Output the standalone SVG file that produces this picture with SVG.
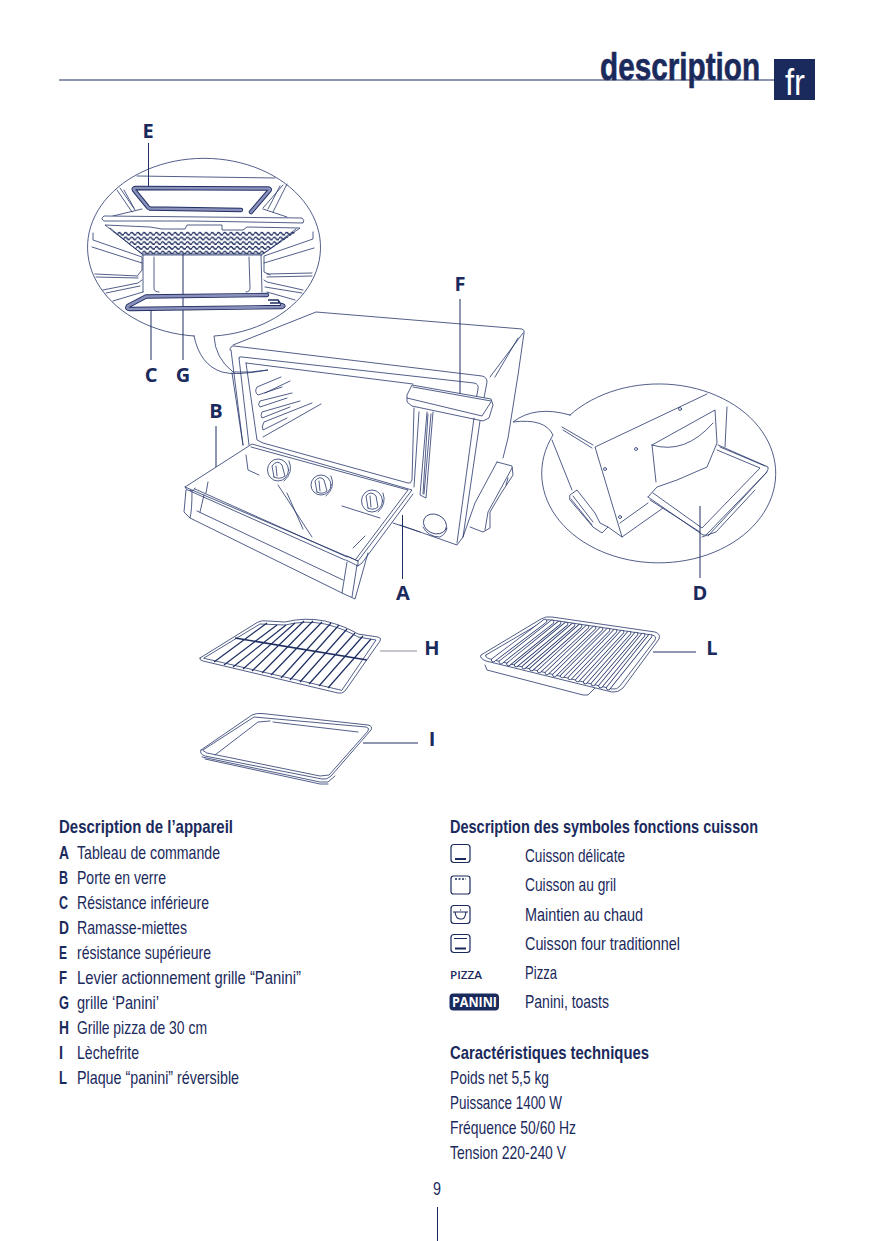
<svg xmlns="http://www.w3.org/2000/svg" width="875" height="1241" viewBox="0 0 875 1241">
<style>
.l{fill:none;stroke:#26366b;stroke-width:.8;stroke-linecap:round;stroke-linejoin:round}
.f{fill:#fff;stroke:#26366b;stroke-width:.8;stroke-linejoin:round}
.c{fill:none;stroke:#1f2f63;stroke-width:1}
.res{fill:none;stroke:#1f2f63;stroke-width:4.4;stroke-linecap:round;stroke-linejoin:round}
.res2{fill:none;stroke:#8b90bb;stroke-width:2.6;stroke-linecap:round;stroke-linejoin:round}
.t{font-family:"Liberation Sans",sans-serif;font-size:19px;fill:#1b2a5c}
.b{font-family:"Liberation Sans",sans-serif;font-size:19px;font-weight:700;fill:#1b2a5c}
.k{font-family:"Open Sans","Liberation Sans",sans-serif;font-size:20px;font-weight:700;fill:#1b2a5c;text-anchor:middle}
</style>
<defs>
<pattern id="wave" width="6.2" height="4.7" patternUnits="userSpaceOnUse" x="0" y="231">
<path d="M0 2.800Q1.550 .2 3.100 2.800T6.200 2.800" fill="none" stroke="#1b2a5c" stroke-width="1.400"/>
</pattern>
</defs>
<rect width="875" height="1241" fill="#fff"/>

<g id="header">
<line x1="59" y1="80" x2="775" y2="80" stroke="#1b2a5c" stroke-width="1"/>
<text transform="translate(600 80) scale(.762 1)" font-family="'Liberation Sans',sans-serif" font-size="39" font-weight="700" fill="#1b2a5c" stroke="#1b2a5c" stroke-width=".6">description</text>
<rect x="774" y="59" width="41" height="41" fill="#1b2a5c"/>
<text x="785" y="95" font-family="'Liberation Sans',sans-serif" font-size="36" fill="#fff" textLength="20" lengthAdjust="spacingAndGlyphs">fr</text>
</g>

<g id="connectors">
<path class="c" d="M148.500 143V188M151 307V360M183 253V360M460 299V404M216 426V486M402.500 515V579M700 506V578M363 743H418M653 652H696"/>
<path d="M380 651H417" fill="none" stroke="#8a8f9c" stroke-width="1"/>
</g>

<g id="oven">
<path class="l" d="M233 345L316 312L522 329Q525 330 524 333L518 375L508 438L503 458"/>
<path class="l" d="M523 333L490 377M518 338L495 377"/>
<path class="l" d="M230 350Q230 346 234 346L482 376Q487 377 487 382L484 398"/>
<path class="l" d="M231 350L243 445M232 373L243 445M239 358L249 445M239 358Q239 356 242 357L474 383Q479 384 478 389L476 400"/>
<path class="l" d="M246 363L413 384M246 363L257 440L263 443L408 483Q411 484 412 480L414 408"/>
<path class="l" d="M281 377L257 387Q254 392 258 395L282 387M290 381L265 393M292 393L260 401Q257 405 260 407L287 398M300 401L262 412Q260 416 262 418L290 407M312 403L264 422Q261 427 263 430L287 418M321 404L263 437"/>
<path class="l" d="M419 412L414 487M427 412L420 495L426 498L433 412M428 414L423 494M431 414L424 494"/>
<path class="f" d="M412 385L491 399L493 405L489 418L483 421L412 406L407 402V395Z"/>
<path class="l" d="M407 398L482 416L491 402M413 387L491 401"/>
<path class="l" d="M474 418L457 543M480 421L463 537L457 545L400 525"/>
<path class="l" d="M497 462L512 466L513 475L500 495L490 512L490 528L483 532L470 527M497 462L475 503L463 537M512 468L488 512L485 530M508 478L506 485"/>
<g id="timer-knob" class="l"><ellipse cx="435" cy="524" rx="12" ry="9.500" transform="rotate(25 435 524)"/><path d="M423 527Q428 537 440 537Q446 534 447 528"/></g>
<path class="f" d="M252 444L412 490L358 561L185 487Z"/>
<path class="l" d="M251 447L408 490L356 559M195 489L347 557M190 491L345 560M413 494L362 563L358 566"/>
<path class="l" d="M185 487L187 490L193 491L195 488M347 556L358 561V566L346 560"/>
<path class="l" d="M186 490L184 512L190 518Q192 510 192 492M204 495L200 512M197 511L343 580M190 518L342 593"/>
<path class="l" d="M347 562L342 593L355 599L368 553M357 565L352 597"/>
<path class="l" d="M208 482L206 493M246 455L248 470L259 475M278 485L312 537M287 493L303 529M342 506L380 518M353 548L365 536M393 523L420 532"/>
<g id="knobs" class="l">
<ellipse cx="278" cy="470" rx="10.500" ry="11"/><path d="M289 461Q294 472 284 481M274 477L272 466Q277 459 282 465L285 476Q280 480 274 477ZM277 476L276 466"/>
<ellipse cx="321" cy="485" rx="10" ry="10"/><path d="M331 476Q336 487 326 496M317 492L315 481Q320 475 324 480L327 491Q322 495 317 492ZM320 491L319 481"/>
<ellipse cx="372" cy="501" rx="10.500" ry="11"/><path d="M383 493Q387 504 378 512M368 508L366 496Q371 490 376 496L378 507Q373 511 368 508ZM371 507L370 496"/>
</g>
</g>

<g id="callout-top">
<path class="l" d="M194 336A116.500 89 0 1 1 214 336Q215 358 233 372Q250 373 268 370Q235 376 222 372Q200 365 194 336Z"/>
<path class="l" d="M137 176L275 178M117 190L132 212M120 188L135 210M124 190L134 208M113 216L142 209M283 185L263 208M287 184L273 212M280 186L268 209M287 217L263 209"/>
<path class="res" d="M241 210L150 208.500Q148 208 147 206L134 190Q133 188 136 188L268 188.500Q271 189 269 191L251 212"/>
<path class="res2" d="M241 210L150 208.500Q148 208 147 206L134 190Q133 188 136 188L268 188.500Q271 189 269 191L251 212"/>
<path class="f" d="M104 216L302 218Q305 220 303 223L250 222L190 221L104 221Q100 219 104 216Z"/>
<path class="f" d="M105 225L150 227L162 229H185L187 225H222V230H243L247 227L300 228L263 254H142Z"/>
<path d="M112 231H298L263 254H142Z" fill="url(#wave)" stroke="none"/>
<path class="l" d="M110 228L142 254M296 229L263 254M142 255H262"/>
<path class="l" d="M143 255V292M154 257V288Q154 292 159 292M249 257L250 288Q250 292 246 292M261 255L262 292"/>
<path class="l" d="M93 233V240L142 257V270L138 275M92 247L142 263M95 274L138 276M96 277L138 278M103 290L138 283L142 280M106 293L140 286M113 301L143 292"/>
<path class="l" d="M313 232V239L264 256V272L270 275M314 248L264 263M312 273L267 274M312 276L267 277M303 290L267 282L264 280M302 293L265 287M295 300L267 292"/>
<path class="res" d="M267 295L146 296.500L128 306Q126 309 130 309L282 307Q285 306 282 305"/>
<path class="res2" d="M267 295L146 296.500L128 306Q126 309 130 309L282 307Q285 306 282 305"/>
<path fill="none" stroke="#1f2f63" stroke-width="1.600" d="M268 300H278L280 303H270"/>
</g>

<g id="callout-side">
<path class="l" d="M570 415A117 89.500 0 1 1 553 435Q545 418 513 422Q535 405 570 415Z"/>
<path class="l" d="M707 394L595 447L622 537L663 508M620 523L648 503M552 440L572 490M562 427L593 445M563 430L592 448"/>
<path class="l" d="M570 495L577 490L595 513L600 523L608 527L602 533L593 527L570 500ZM573 496L593 522M571 499L592 525M608 527L622 537"/>
<path class="l" d="M652 445L715 410L717 443L707 467L677 480L657 487L648 497M652 445Q685 455 713 423M652 445L656 482M727 407L725 447"/>
<path class="l" d="M718 445L768 467Q769 469 766 473L706 535L703 535L648 497M717 450L760 468L702 528L653 493M720 447L765 466M767 472L708 536M650 500L700 532"/>
<path class="l" d="M702 537L716 532L755 490"/>
<circle class="l" cx="680" cy="409" r="1.500"/><circle class="l" cx="636" cy="449" r="1.500"/><circle class="l" cx="605" cy="469" r="1.500"/><circle class="l" cx="620" cy="517" r="1.500"/>
</g>

<g id="grille-h">
<path class="l" d="M200 658L258 622Q262 620 268 621L285 622Q305 617 325 621Q345 626 358 634L378 637Q382 638 380 641L345 691Q342 694 338 693L203 661Q199 660 200 658Z"/>
<path class="l" d="M204 658L260 624L285 625Q305 620 325 624Q345 629 358 637L376 640L342 690Z"/>
<path d="M214 662L267 623M224 665L277 625M233 667L286 625M243 669L295 623M252 671L304 621M262 673L313 621M271 675L322 622M281 678L331 623M290 680L339 625M300 682L347 629M309 684L355 633M319 686L363 636M328 688L371 639" fill="none" stroke="#1f2f63" stroke-width="1.200"/>
<path d="M235 638L367 660" fill="none" stroke="#1f2f63" stroke-width="1.600"/>
</g>

<g id="tray-i">
<path class="l" d="M201 750L252 715Q256 713 262 713.500L368 725Q373 726 371 730L331 776Q327 780 322 779L205 756Q199 754 201 750Z"/>
<path class="l" d="M203 750L254 717L366 727Q370 728 368 731L329 775L320 776L207 753ZM215 755L258 722L270 721M273 722L358 732M202 757L320 782H328L335 776M205 759L320 784L328 784"/>
</g>

<g id="plaque-l">
<path class="l" d="M485 665L487 670L583 695H588L598 685"/>
<path class="f" d="M481 655L541 619Q546 616 552 617L655 632Q661 634 659 639L623 688Q618 693 612 692L486 661Q479 658 481 655Z"/>
<path class="l" d="M486 655L544 621Q548 619 552 620L652 635Q657 636 655 640L620 686Q617 690 612 689L490 659Q484 657 486 655Z"/>
<path id="ribs" stroke="#26366b" stroke-width="4.400" stroke-linecap="round" fill="none" d="M493.300 660L545 621M501 662L552 622M508.600 664L559 623M516.300 665L566 624M524 667L573 625M531.600 669L580 626M539.300 671L587 627M547 673L594 628M554.600 675L601 629M562.300 676L608 630M570 678L615 631M577.600 680L622 632M585.300 682L629 633M593 684L636 634M600.600 686L643 635M608.300 688L650 636"/>
<path stroke="#fff" stroke-width="2.900" stroke-linecap="round" fill="none" d="M493.300 660L545 621M501 662L552 622M508.600 664L559 623M516.300 665L566 624M524 667L573 625M531.600 669L580 626M539.300 671L587 627M547 673L594 628M554.600 675L601 629M562.300 676L608 630M570 678L615 631M577.600 680L622 632M585.300 682L629 633M593 684L636 634M600.600 686L643 635M608.300 688L650 636"/>
</g>

<g id="labels">
<text class="k" x="148" y="138">E</text>
<text class="k" x="151" y="382">C</text>
<text class="k" x="183" y="382">G</text>
<text class="k" x="460" y="291">F</text>
<text class="k" x="216" y="418">B</text>
<text class="k" x="403" y="600">A</text>
<text class="k" x="700" y="600">D</text>
<text class="k" x="432" y="655">H</text>
<text class="k" x="712" y="655">L</text>
<text class="k" x="432" y="746">I</text>
</g>

<g id="description">
<text class="b" x="59" y="833" textLength="174" lengthAdjust="spacingAndGlyphs">Description de l’appareil</text>
<text class="b" x="59" y="859" textLength="10" lengthAdjust="spacingAndGlyphs">A</text><text class="t" x="77" y="859" textLength="143" lengthAdjust="spacingAndGlyphs">Tableau de commande</text>
<text class="b" x="59" y="884" textLength="9" lengthAdjust="spacingAndGlyphs">B</text><text class="t" x="77" y="884" textLength="89" lengthAdjust="spacingAndGlyphs">Porte en verre</text>
<text class="b" x="59" y="909" textLength="9" lengthAdjust="spacingAndGlyphs">C</text><text class="t" x="77" y="909" textLength="132" lengthAdjust="spacingAndGlyphs">Résistance inférieure</text>
<text class="b" x="59" y="934" textLength="10" lengthAdjust="spacingAndGlyphs">D</text><text class="t" x="77" y="934" textLength="110" lengthAdjust="spacingAndGlyphs">Ramasse-miettes</text>
<text class="b" x="59" y="959" textLength="8" lengthAdjust="spacingAndGlyphs">E</text><text class="t" x="77" y="959" textLength="134" lengthAdjust="spacingAndGlyphs">résistance supérieure</text>
<text class="b" x="59" y="984" textLength="8" lengthAdjust="spacingAndGlyphs">F</text><text class="t" x="77" y="984" textLength="224" lengthAdjust="spacingAndGlyphs">Levier actionnement grille “Panini”</text>
<text class="b" x="59" y="1009" textLength="10" lengthAdjust="spacingAndGlyphs">G</text><text class="t" x="77" y="1009" textLength="82" lengthAdjust="spacingAndGlyphs">grille ‘Panini’</text>
<text class="b" x="59" y="1034" textLength="10" lengthAdjust="spacingAndGlyphs">H</text><text class="t" x="77" y="1034" textLength="130" lengthAdjust="spacingAndGlyphs">Grille pizza de 30 cm</text>
<text class="b" x="59" y="1059" textLength="4" lengthAdjust="spacingAndGlyphs">I</text><text class="t" x="77" y="1059" textLength="62" lengthAdjust="spacingAndGlyphs">Lèchefrite</text>
<text class="b" x="59" y="1084" textLength="8" lengthAdjust="spacingAndGlyphs">L</text><text class="t" x="77" y="1084" textLength="162" lengthAdjust="spacingAndGlyphs">Plaque “panini” réversible</text>
</g>

<g id="symbols">
<text class="b" x="450" y="833" textLength="308" lengthAdjust="spacingAndGlyphs">Description des symboles fonctions cuisson</text>
<g id="icon-delicate"><rect x="451" y="844.500" width="19" height="18" rx="3" fill="none" stroke="#1b2a5c" stroke-width="1.200"/><path d="M455 859H466" stroke="#1b2a5c" stroke-width="2"/></g>
<g id="icon-gril"><rect x="451" y="876" width="19" height="18" rx="2.500" fill="none" stroke="#1b2a5c" stroke-width="1.200"/><path d="M455 879H466" stroke="#1b2a5c" stroke-width="1.400" stroke-dasharray="2 1.500"/></g>
<g id="icon-chaud"><rect x="451" y="905.500" width="19" height="18" rx="3" fill="none" stroke="#1b2a5c" stroke-width="1.200"/><path d="M453 912H468M455 912Q456 919 460 919H462Q465 919 466 912M460 910H461" fill="none" stroke="#1b2a5c" stroke-width="1.100"/></g>
<g id="icon-trad"><rect x="451" y="934.500" width="19" height="18" rx="3" fill="none" stroke="#1b2a5c" stroke-width="1.200"/><path d="M454 938.500H467" stroke="#1b2a5c" stroke-width="1"/><path d="M455 948.500H466" stroke="#1b2a5c" stroke-width="2"/></g>
<text x="450" y="979" font-family="'Open Sans','Liberation Sans',sans-serif" font-size="11" font-weight="600" fill="#1b2a5c" textLength="32" lengthAdjust="spacingAndGlyphs">PIZZA</text>
<g id="icon-panini"><rect x="449.500" y="993.500" width="49.500" height="17" rx="4" fill="#1b2a5c"/><text x="452" y="1007" font-family="'Open Sans','Liberation Sans',sans-serif" font-size="13.500" font-weight="700" fill="#fff" textLength="45" lengthAdjust="spacingAndGlyphs">PANINI</text></g>
<text class="t" x="525" y="862" textLength="100" lengthAdjust="spacingAndGlyphs">Cuisson délicate</text>
<text class="t" x="525" y="891" textLength="91" lengthAdjust="spacingAndGlyphs">Cuisson au gril</text>
<text class="t" x="525" y="921" textLength="118" lengthAdjust="spacingAndGlyphs">Maintien au chaud</text>
<text class="t" x="525" y="950" textLength="155" lengthAdjust="spacingAndGlyphs">Cuisson four traditionnel</text>
<text class="t" x="525" y="979" textLength="32" lengthAdjust="spacingAndGlyphs">Pizza</text>
<text class="t" x="525" y="1008" textLength="84" lengthAdjust="spacingAndGlyphs">Panini, toasts</text>
</g>

<g id="specs">
<text class="b" x="450" y="1059" textLength="199" lengthAdjust="spacingAndGlyphs">Caractéristiques techniques</text>
<text class="t" x="450" y="1084" textLength="99" lengthAdjust="spacingAndGlyphs">Poids net 5,5 kg</text>
<text class="t" x="450" y="1109" textLength="112" lengthAdjust="spacingAndGlyphs">Puissance 1400 W</text>
<text class="t" x="450" y="1134" textLength="126" lengthAdjust="spacingAndGlyphs">Fréquence 50/60 Hz</text>
<text class="t" x="450" y="1159" textLength="116" lengthAdjust="spacingAndGlyphs">Tension 220-240 V</text>
</g>

<g id="footer">
<text class="t" x="433" y="1195" textLength="8" lengthAdjust="spacingAndGlyphs">9</text>
<line x1="437.500" y1="1207" x2="437.500" y2="1241" stroke="#1b2a5c" stroke-width="1"/>
</g>
</svg>
